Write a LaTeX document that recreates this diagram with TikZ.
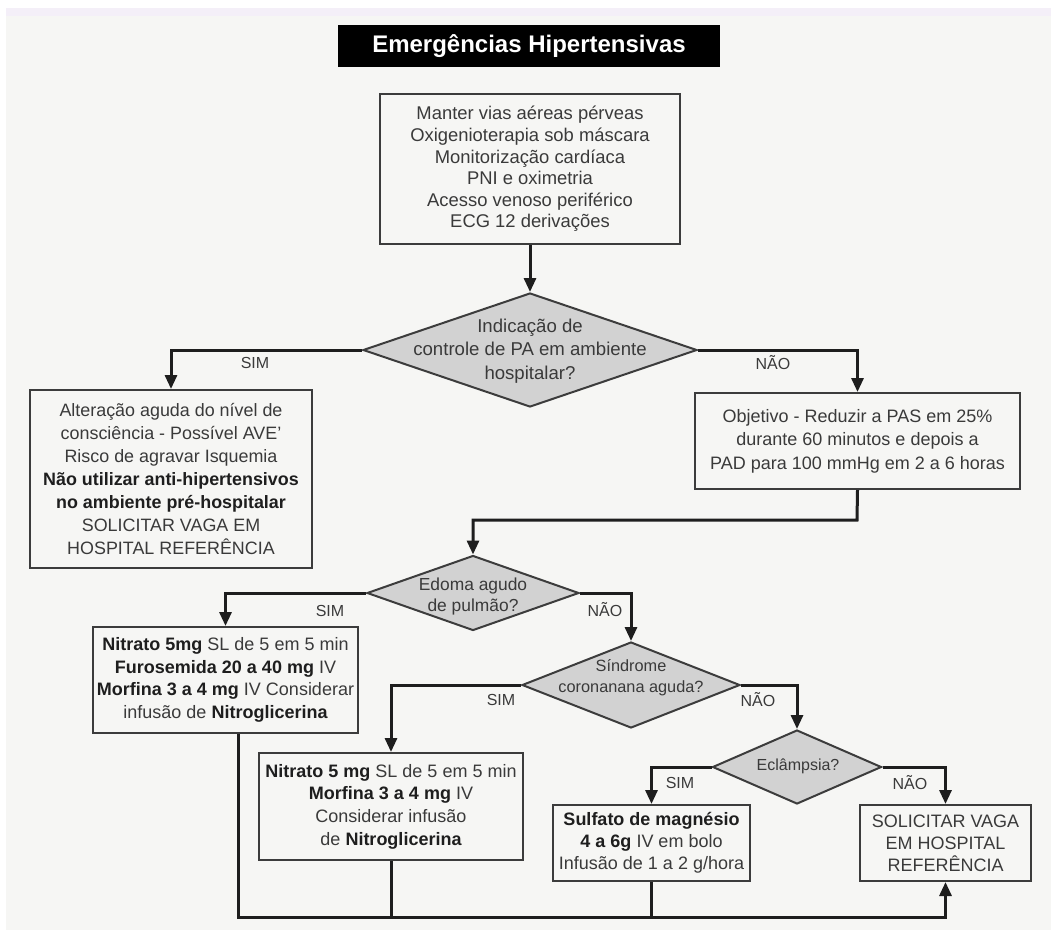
\documentclass[tikz,border=0pt]{standalone}
\usepackage{fontspec}
\setmainfont{Liberation Sans}
\usetikzlibrary{shapes.geometric,arrows.meta}

\definecolor{paper}{HTML}{F6F6F4}
\definecolor{band}{HTML}{F4EFF8}
\definecolor{ink}{HTML}{1E1E1E}
\definecolor{txt}{HTML}{3A3A3A}
\definecolor{diafill}{HTML}{D2D2D2}
\definecolor{frame}{HTML}{3C3C3C}

\tikzset{
  box/.style={draw=frame, line width=2pt, fill=paper, inner sep=0pt,
    align=center, text=txt, font=\fontsize{18}{22.7}\selectfont},
  dia/.style={diamond, draw=frame, line width=2pt, fill=diafill, inner sep=0pt},
  diatext/.style={align=center, text=txt, inner sep=0pt,
    font=\fontsize{17}{22.5}\selectfont},
  lbl/.style={text=txt, inner sep=0pt, font=\fontsize{16}{18}\selectfont},
  flow/.style={draw=ink, line width=3pt, -{Triangle[length=14pt,width=12pt]}},
  feedline/.style={draw=ink, line width=3pt},
}
\newcommand{\bd}[1]{\textbf{\color{ink}#1}}

\begin{document}
\begin{tikzpicture}[x=1pt,y=-1pt]
% page and background
\useasboundingbox (0,0) rectangle (1051,930);
\fill[white] (0,0) rectangle (1051,930);
\fill[paper] (6,8) rectangle (1051,930);
\fill[band] (6,8) rectangle (1051,16);

% title
\node[fill=black, minimum width=382pt, minimum height=42pt, inner sep=0pt,
  text=white, font=\fontsize{24}{27}\selectfont\bfseries] (title) at (529,46)
  {Emergências Hipertensivas};

% initial measures
\node[box, minimum width=300pt, minimum height=150pt,
  font=\fontsize{18.4}{21.6}\selectfont] (start) at (530,169)
  {Manter vias aéreas pérveas\\Oxigenioterapia sob máscara\\Monitorização cardíaca\\PNI e oximetria\\Acesso venoso periférico\\ECG 12 derivações};

% decision 1
\node[dia, minimum width=334pt, minimum height=114pt] (d1) at (530,350) {};
\node[diatext, font=\fontsize{18.6}{23.5}\selectfont] (d1t) at (530,351)
  {Indicação de\\controle de PA em ambiente\\hospitalar?};

\node[box, minimum width=282pt, minimum height=178pt,
  font=\fontsize{17.9}{23}\selectfont] (left) at (171,479)
  {Alteração aguda do nível de\\consciência - Possível AVE’\\Risco de agravar Isquemia\\\bd{Não utilizar anti-hipertensivos}\\\bd{no ambiente pré-hospitalar}\\SOLICITAR VAGA EM\\HOSPITAL REFERÊNCIA};

\node[box, minimum width=325pt, minimum height=96pt,
  font=\fontsize{18}{23.5}\selectfont] (goal) at (857.5,441)
  {Objetivo - Reduzir a PAS em 25\%\\durante 60 minutos e depois a\\PAD para 100 mmHg em 2 a 6 horas};

% decision 2
\node[dia, minimum width=212pt, minimum height=75pt] (d2) at (473,593) {};
\node[diatext, font=\fontsize{17.4}{21}\selectfont] (d2t) at (473,596) {Edoma agudo\\de pulmão?};

\node[box, minimum width=265pt, minimum height=106pt] (n1) at (225.5,680)
  {\bd{Nitrato 5mg} SL de 5 em 5 min\\\bd{Furosemida 20 a 40 mg} IV\\\bd{Morfina 3 a 4 mg} IV Considerar\\infusão de \bd{Nitroglicerina}};

% decision 3
\node[dia, minimum width=218pt, minimum height=86pt] (d3) at (631,685) {};
\node[diatext, font=\fontsize{16.3}{21}\selectfont] (d3t) at (631,678) {Síndrome\\coronanana aguda?};

\node[box, minimum width=264pt, minimum height=107pt] (n2) at (391,806.5)
  {\bd{Nitrato 5 mg} SL de 5 em 5 min\\\bd{Morfina 3 a 4 mg} IV\\Considerar infusão\\de \bd{Nitroglicerina}};

% decision 4
\node[dia, minimum width=169pt, minimum height=74pt] (d4) at (797,767) {};
\node[diatext, font=\fontsize{16}{20}\selectfont] (d4t) at (798,766) {Eclâmpsia?};

\node[box, minimum width=197pt, minimum height=76pt,
  font=\fontsize{18}{22}\selectfont] (mg) at (651.5,843)
  {\bd{Sulfato de magnésio}\\\bd{4 a 6g} IV em bolo\\Infusão de 1 a 2 g/hora};

\node[box, minimum width=171pt, minimum height=76pt,
  font=\fontsize{18}{22}\selectfont] (vaga) at (945.5,843)
  {SOLICITAR VAGA\\EM HOSPITAL\\REFERÊNCIA};

% connectors
\draw[flow] (start.south) -- (d1.north);
\draw[flow] (d1.west) -| (left.north);
\draw[flow] (d1.east) -| (goal.north);
\coordinate (g2) at (857,520);
\draw[flow] (goal.south) -- (g2) -| (d2.north);
\draw[flow] (d2.west) -| (n1.north);
\draw[flow] (d2.east) -| (d3.north);
\draw[flow] (d3.west) -| (n2.north);
\draw[flow] (d3.east) -| (d4.north);
\draw[flow] (d4.west) -| (mg.north);
\draw[flow] (d4.east) -| (vaga.north);

% collecting line to the referral box
\coordinate (n1out) at ([xshift=12.5pt]n1.south);
\coordinate (base) at (238,917);
\draw[flow] (n1out) -- (n1out |- base) -| (vaga.south);
\draw[feedline] (n2.south) -- (n2.south |- base);
\draw[feedline] (mg.south) -- (mg.south |- base);

% branch labels
\node[lbl] (s1) at (255,363) {SIM};
\node[lbl] (y1) at (773,363) {NÃO};
\node[lbl] (s2) at (330,611) {SIM};
\node[lbl] (y2) at (605,610) {NÃO};
\node[lbl] (s3) at (501,700) {SIM};
\node[lbl] (y3) at (758,700) {NÃO};
\node[lbl] (s4) at (680,783) {SIM};
\node[lbl] (y4) at (910,783) {NÃO};
\end{tikzpicture}
\end{document}
